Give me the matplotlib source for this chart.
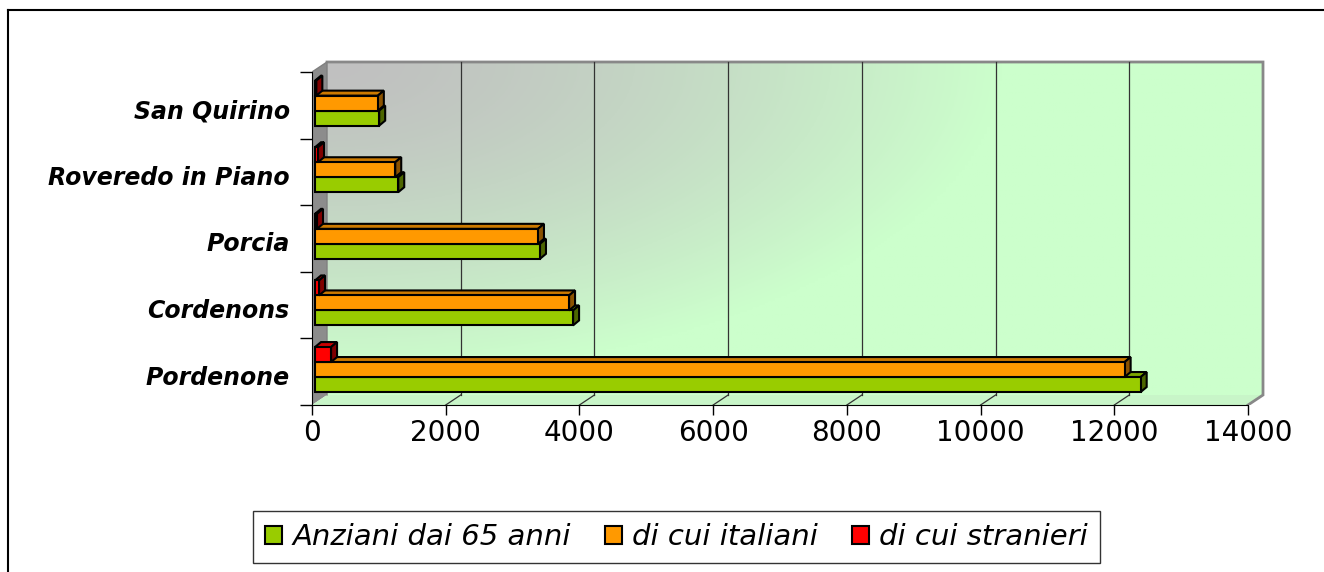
import numpy as np
import matplotlib
matplotlib.use("Agg")
import matplotlib.pyplot as plt
from matplotlib.patches import Polygon, Patch
from matplotlib.lines import Line2D

# data
comuni = ["Pordenone", "Cordenons", "Porcia", "Roveredo in Piano", "San Quirino"]
anziani = [12350, 3860, 3365, 1245, 960]
italiani = [12110, 3800, 3335, 1200, 940]
stranieri = [240, 60, 30, 45, 20]
series_names = ["Anziani dai 65 anni", "di cui italiani", "di cui stranieri"]
xticks = [0, 2000, 4000, 6000, 8000, 10000, 12000, 14000]

# colours: front, top, side
colors = [("#99cc00", "#7da600", "#4d6600"),
          ("#ff9900", "#cc7a00", "#8a5200"),
          ("#ff0000", "#cc0000", "#800000")]

W, H = 1324, 572
fig = plt.figure(figsize=(W / 100, H / 100), dpi=100)

# axes: x=0 at pixel 312, 14000 at 1248; y=0 at pixel 405, 66.6 px per category
px_x = 14000 / 936.0
px_y = 1 / 66.6
ax = fig.add_axes([312 / W, (H - 405) / H, 958 / W, 345 / H])
ax.set_xlim(0, 958 * px_x)
ax.set_ylim(0, 345 * px_y)
ax.patch.set_visible(False)

DX, DY = 15 * px_x, 10 * px_y          # wall depth
XMAX = 14000
NC = len(comuni)

# back wall with gradient: grey in the top-left corner, light green elsewhere
nx, ny = 300, 150
u = np.linspace(0, 1, nx)[None, :]
v = np.linspace(0, 1, ny)[:, None]       # 0 at top
t = np.clip(np.sqrt((u / 0.72) ** 2 + (v / 0.95) ** 2), 0, 1) ** 1.4
c0 = np.array([192, 192, 192]) / 255
c1 = np.array([204, 255, 204]) / 255
img = c0[None, None, :] * (1 - t[..., None]) + c1[None, None, :] * t[..., None]
ax.imshow(img, extent=(DX, XMAX + DX, DY, NC + DY), origin="upper",
          aspect="auto", zorder=0)

# side wall
ax.add_patch(Polygon([(0, 0), (DX, DY), (DX, NC + DY), (0, NC)],
                     closed=True, facecolor="#8c8c8c", edgecolor="none", zorder=1))
# floor
ax.add_patch(Polygon([(0, 0), (XMAX, 0), (XMAX + DX, DY), (DX, DY)],
                     closed=True, facecolor="#c8f5c8", edgecolor="none", zorder=1))
# wall outline
ax.plot([DX, XMAX + DX, XMAX + DX, XMAX], [NC + DY, NC + DY, DY, 0],
        color="#888888", lw=2, zorder=2, solid_joinstyle="miter")
ax.plot([0, DX, DX], [NC, NC + DY, DY], color="#808080", lw=1, zorder=2)

# gridlines
for x in xticks[1:-1]:
    ax.plot([x + DX, x + DX], [DY, NC + DY], color="#333333", lw=0.9, zorder=2)
    ax.plot([x, x + DX], [0, DY], color="#333333", lw=0.9, zorder=2)

# bars as 3D boxes
bx = 3 * px_x
bdx, bdy = 6 * px_x, 5 * px_y
bh = 0.225
series = [anziani, italiani, stranieri]
z = 3
for i in range(NC):
    for s, vals in enumerate(series):
        val = vals[i]
        y0 = i + 0.195 + s * bh
        y1 = y0 + bh
        x0, x1 = bx, bx + val
        front, top, side = colors[s]
        kw = dict(closed=True, edgecolor="black", lw=1.5, joinstyle="miter", zorder=z)
        ax.add_patch(Polygon([(x0, y1), (x1, y1), (x1 + bdx, y1 + bdy), (x0 + bdx, y1 + bdy)],
                             facecolor=top, **kw))
        ax.add_patch(Polygon([(x1, y0), (x1 + bdx, y0 + bdy), (x1 + bdx, y1 + bdy), (x1, y1)],
                             facecolor=side, **kw))
        ax.add_patch(Polygon([(x0, y0), (x1, y0), (x1, y1), (x0, y1)],
                             facecolor=front, **kw))
        z += 1

# axes lines and ticks
for sp in ["top", "right"]:
    ax.spines[sp].set_visible(False)
ax.spines["left"].set_bounds(0, NC)
ax.spines["bottom"].set_bounds(0, XMAX)
ax.spines["left"].set_zorder(50)
ax.spines["bottom"].set_zorder(50)
ax.set_xticks(xticks)
ax.set_xticklabels([str(x) for x in xticks], fontsize=20, fontfamily="DejaVu Sans")
ax.tick_params(axis="x", direction="out", length=7, width=1, pad=3)
ax.set_yticks([i + 0.45 for i in range(NC)])
ax.set_yticklabels(comuni, fontsize=17, fontweight="bold", fontstyle="italic",
                   fontfamily="DejaVu Sans")
ax.tick_params(axis="y", length=0, pad=16)
ax.set_yticks(range(NC + 1), minor=True)
ax.tick_params(axis="y", which="minor", direction="out", length=9, width=1)

# legend
handles = [Patch(facecolor=colors[k][0], edgecolor="black", lw=1.5) for k in range(3)]
leg = fig.legend(handles, series_names, loc="center", ncol=3,
                 bbox_to_anchor=(676.5 / W, (H - 537) / H),
                 prop={"family": "DejaVu Sans", "style": "italic", "size": 21},
                 frameon=True, fancybox=False, edgecolor="black",
                 handlelength=0.58, handleheight=0.58, handletextpad=0.37,
                 columnspacing=1.15, borderpad=0.4, borderaxespad=0)
leg.get_frame().set_linewidth(1.0)

# outer chart border
fig.add_artist(Line2D([8 / W, 8 / W], [0, (H - 10) / H], color="black", lw=1.5,
                      transform=fig.transFigure))
fig.add_artist(Line2D([8 / W, 1], [(H - 10) / H, (H - 10) / H], color="black", lw=1.5,
                      transform=fig.transFigure))

fig.savefig("out.png", dpi=100)
